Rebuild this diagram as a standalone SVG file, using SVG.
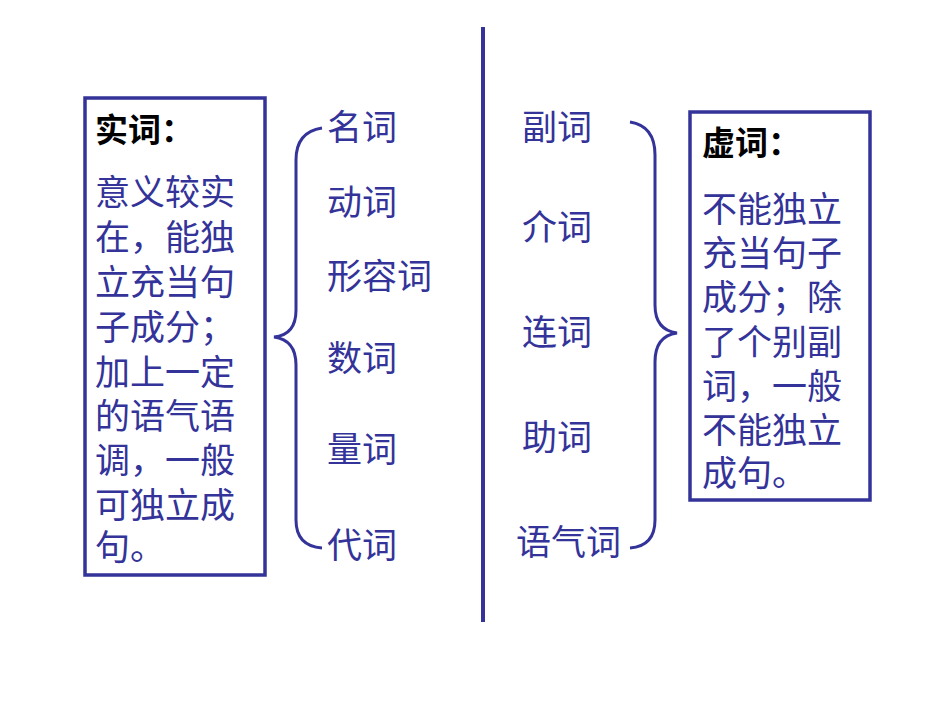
<svg xmlns="http://www.w3.org/2000/svg" width="950" height="713" viewBox="0 0 950 713">
<style>
.t{font-family:"Liberation Sans","Noto Sans CJK SC",sans-serif;font-size:35px;fill:#333399}
.h{font-family:"Liberation Sans","Noto Sans CJK SC",sans-serif;font-size:33px;fill:#000;font-weight:bold}
.box{fill:none;stroke:#333399;stroke-width:3.5}
.ln{fill:none;stroke:#333399;stroke-width:3}
</style>
<rect width="950" height="713" fill="#fff"/>
<g id="left-box">
<rect class="box" x="85" y="98" width="180" height="477"/>
<text class="h" x="95" y="142">实词：</text>
<text class="t" x="95" y="205">意义较实</text>
<text class="t" x="95" y="250">在，能独</text>
<text class="t" x="95" y="295">立充当句</text>
<text class="t" x="95" y="340">子成分；</text>
<text class="t" x="95" y="385">加上一定</text>
<text class="t" x="95" y="429">的语气语</text>
<text class="t" x="95" y="473">调，一般</text>
<text class="t" x="95" y="518">可独立成</text>
<text class="t" x="95" y="560">句。</text>
</g>
<g id="right-box">
<rect class="box" x="690" y="112" width="180" height="388"/>
<text class="h" x="702" y="155">虚词：</text>
<text class="t" x="702" y="222">不能独立</text>
<text class="t" x="702" y="266">充当句子</text>
<text class="t" x="702" y="310">成分；除</text>
<text class="t" x="702" y="355">了个别副</text>
<text class="t" x="702" y="399">词，一般</text>
<text class="t" x="702" y="443">不能独立</text>
<text class="t" x="702" y="486">成句。</text>
</g>
<g id="left-words">
<text class="t" x="327" y="140">名词</text>
<text class="t" x="327" y="215">动词</text>
<text class="t" x="327" y="289">形容词</text>
<text class="t" x="327" y="371">数词</text>
<text class="t" x="327" y="462">量词</text>
<text class="t" x="327" y="558">代词</text>
</g>
<g id="right-words">
<text class="t" x="522" y="140">副词</text>
<text class="t" x="522" y="240">介词</text>
<text class="t" x="522" y="345">连词</text>
<text class="t" x="522" y="450">助词</text>
<text class="t" x="516" y="555">语气词</text>
</g>
<g id="connectors">
<line x1="483" y1="27" x2="483" y2="622" stroke="#333399" stroke-width="4"/>
<path class="ln" d="M322,128 Q296,132 296,160 L296,310 Q296,335 274,337 Q296,340 296,365 L296,520 Q296,546 322,548"/>
<path class="ln" d="M630,122 Q655,126 655,155 L655,305 Q655,330 677,333 Q655,336 655,362 L655,520 Q655,546 630,548"/>
</g>
</svg>
